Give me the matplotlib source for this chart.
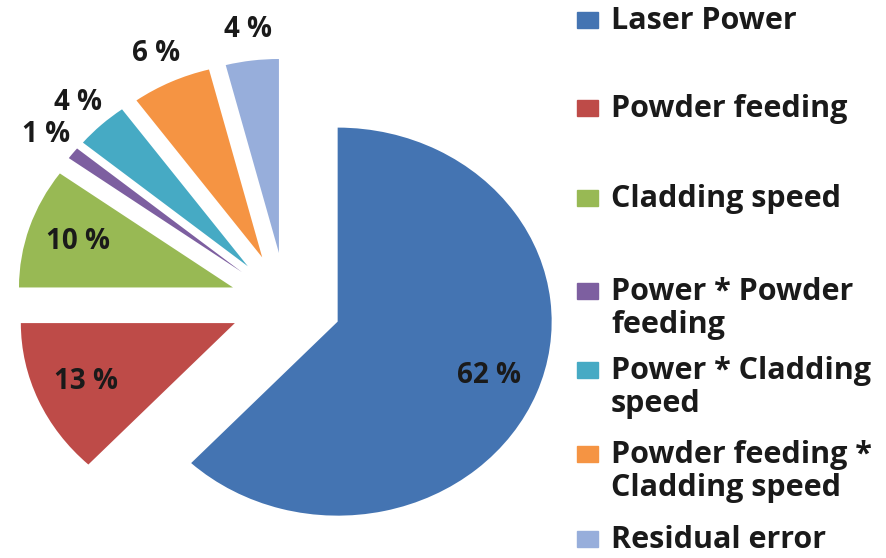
import matplotlib
matplotlib.use('Agg')
import matplotlib.pyplot as plt
from matplotlib.patches import Rectangle
import numpy as np

labels = ['Laser Power', 'Powder feeding', 'Cladding speed',
          'Power * Powder\nfeeding', 'Power * Cladding\nspeed',
          'Powder feeding *\nCladding speed', 'Residual error']
shares = [62, 13, 10, 1, 4, 6, 4]
colors = ['#4474B2', '#BE4B48', '#98B954', '#7D5FA0', '#46AAC4', '#F59443', '#97AEDB']

W, H = 886, 558
fig = plt.figure(figsize=(W / 100, H / 100), dpi=100)
ax = fig.add_axes([0, 0, 1, 1])

wedges, texts, autotexts = ax.pie(
    shares, colors=colors, startangle=90, counterclock=False,
    explode=[0.26] * len(shares), pctdistance=0.76,
    autopct=lambda p: f'{p:.0f} %',
    wedgeprops=dict(linewidth=0),
    textprops=dict(family='Open Sans', weight='bold', fontsize=20, color='#1a1a1a'))

# small slices get their labels outside
for w, t in list(zip(wedges, autotexts))[3:]:
    mid = np.deg2rad((w.theta1 + w.theta2) / 2)
    cx, cy = w.center
    t.set_position((cx + 1.16 * np.cos(mid), cy + 1.16 * np.sin(mid)))

# pie in the source is stretched a little horizontally
ax.set_aspect('auto')
ax.set_xlim(-1.336, 2.804)
ax.set_ylim(-1.314, 1.562)
ax.axis('off')

# legend drawn by hand, the entries are not evenly spaced in the original
legend_y = [20, 108, 198, 291, 370, 454, 539]
for lab, col, yc in zip(labels, colors, legend_y):
    fig.patches.append(Rectangle((577 / W, 1 - (yc + 8) / H), 21 / W, 16 / H,
                                 transform=fig.transFigure, color=col))
    for i, line in enumerate(lab.split('\n')):
        fig.text(611 / W, 1 - (yc + 9 + 33 * i) / H, line, va='baseline', ha='left',
                 family='Open Sans', weight='bold', fontsize=22, color='#1a1a1a')

fig.savefig('out.png', dpi=100, facecolor='white')
